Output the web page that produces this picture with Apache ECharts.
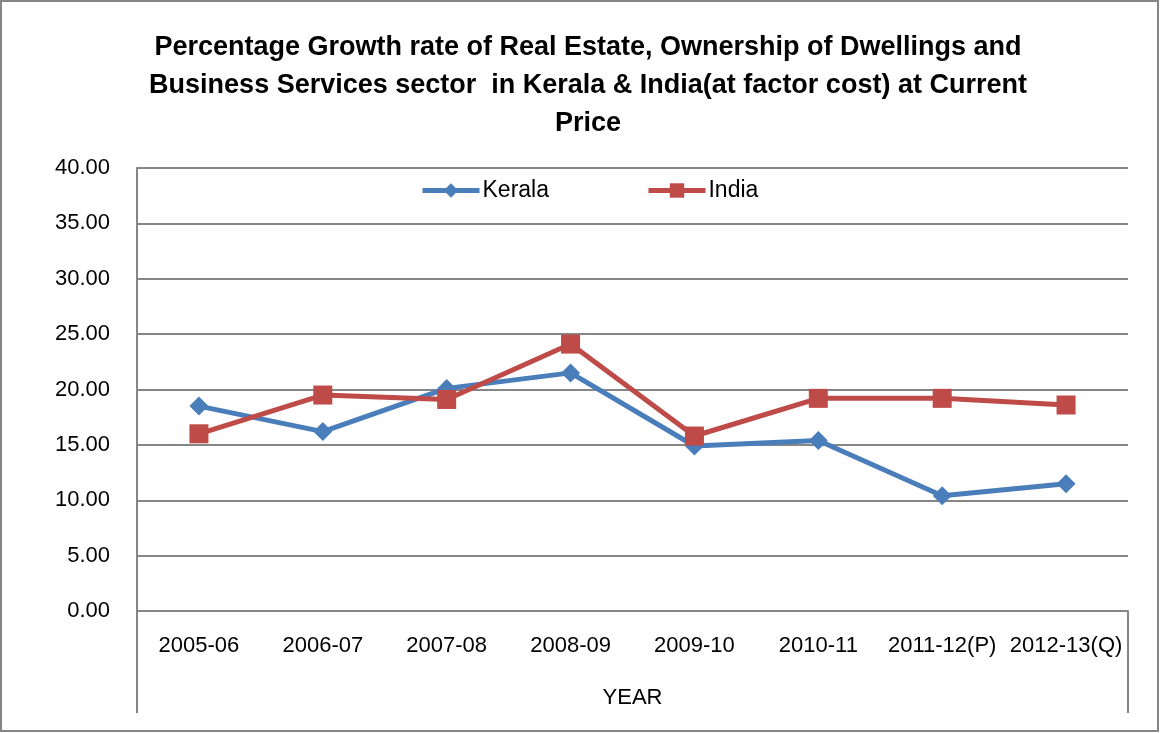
<!DOCTYPE html>
<html>
<head>
<meta charset="utf-8">
<script src="https://cdn.jsdelivr.net/npm/echarts@6/dist/echarts.min.js"></script>
<style>
  html, body { margin: 0; padding: 0; background: #fff; }
  #chart { width: 1161px; height: 733px; }
</style>
</head>
<body>
<div id="chart"></div>
<script>
// Growth rate (%) by financial year
const years = ['2005-06', '2006-07', '2007-08', '2008-09', '2009-10', '2010-11', '2011-12(P)', '2012-13(Q)'];
const kerala = [18.5, 16.2, 20.1, 21.5, 14.9, 15.4, 10.4, 11.5];
const india = [16.0, 19.5, 19.1, 24.1, 15.8, 19.2, 19.2, 18.6];
const yTicks = [0, 5, 10, 15, 20, 25, 30, 35, 40];

const FONT = '"Liberation Sans", Arial, sans-serif';
const GRID = { left: 137, right: 33, top: 168, bottom: 122 };
const W = 1161, H = 733;
const axisGray = '#868686';
const BLUE = '#4A7EBB';
const RED = '#BE4B48';

const chart = echarts.init(document.getElementById('chart'));
chart.setOption({
  backgroundColor: '#fff',
  animation: false,
  title: {
    text: 'Percentage Growth rate of Real Estate, Ownership of Dwellings and\nBusiness Services sector  in Kerala & India(at factor cost) at Current\nPrice',
    left: 583,
    textAlign: 'center',
    top: 24,
    textStyle: { fontFamily: FONT, fontWeight: 'bold', fontSize: 27, lineHeight: 38, color: '#000' }
  },
  legend: {
    top: 174,
    left: 415,
    itemGap: 97,
    itemWidth: 57,
    itemHeight: 18,
    lineStyle: { width: 5 },
    textStyle: { fontFamily: FONT, fontSize: 23, color: '#000', padding: [0, 0, 0, -2] },
    data: ['Kerala', 'India']
  },
  grid: GRID,
  xAxis: {
    type: 'category',
    data: years,
    boundaryGap: true,
    name: 'YEAR',
    nameLocation: 'middle',
    nameGap: 76,
    nameTextStyle: { fontFamily: FONT, fontSize: 22, color: '#000' },
    axisLine: { lineStyle: { color: axisGray, width: 2 } },
    axisTick: { show: false },
    axisLabel: { fontFamily: FONT, fontSize: 22, color: '#000', margin: 24, interval: 0 }
  },
  yAxis: {
    type: 'value',
    min: yTicks[0],
    max: yTicks[yTicks.length - 1],
    interval: 5,
    axisLine: { show: true, lineStyle: { color: axisGray, width: 2 } },
    axisTick: { show: false },
    splitLine: { lineStyle: { color: axisGray, width: 2 } },
    axisLabel: {
      fontFamily: FONT, fontSize: 22, color: '#000', margin: 27,
      formatter: v => v.toFixed(2)
    }
  },
  series: [
    {
      name: 'Kerala',
      type: 'line',
      data: kerala,
      symbol: 'diamond',
      symbolSize: 19,
      lineStyle: { color: BLUE, width: 5 },
      itemStyle: { color: BLUE }
    },
    {
      name: 'India',
      type: 'line',
      data: india,
      symbol: 'rect',
      symbolSize: 19,
      lineStyle: { color: RED, width: 5 },
      itemStyle: { color: RED }
    }
  ],
  graphic: [
    // outer chart frame
    { type: 'rect', shape: { x: 1, y: 1, width: W - 4, height: H - 3 },
      style: { fill: 'none', stroke: axisGray, lineWidth: 2 } },
    // category band edges below the axis
    { type: 'line', shape: { x1: GRID.left, y1: H - GRID.bottom, x2: GRID.left, y2: H - 20 },
      style: { stroke: axisGray, lineWidth: 2 } },
    { type: 'line', shape: { x1: W - GRID.right, y1: H - GRID.bottom, x2: W - GRID.right, y2: H - 20 },
      style: { stroke: axisGray, lineWidth: 2 } }
  ]
});
</script>
</body>
</html>
